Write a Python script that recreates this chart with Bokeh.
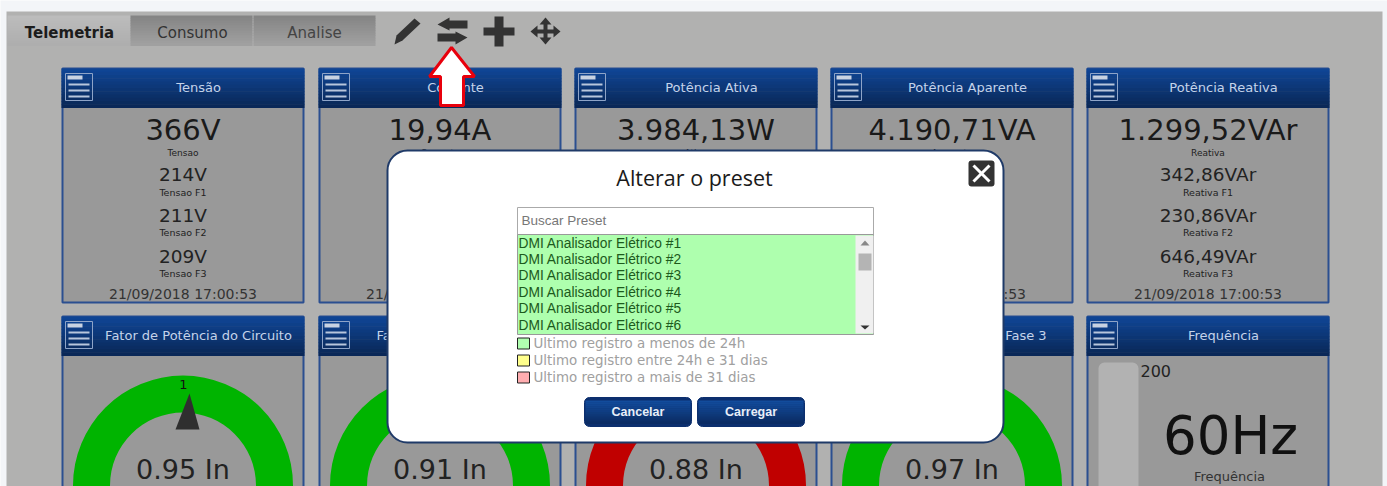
from bokeh.plotting import figure
from bokeh.models import Range1d
from bokeh.core.properties import value
from bokeh.embed import file_html
from bokeh.resources import INLINE

# ---------- values ----------
tabs = ["Telemetria", "Consumo", "Analise"]
row1_titles = ["Tensão", "Corrente", "Potência Ativa", "Potência Aparente", "Potência Reativa"]
row1_main = ["366V", "19,94A", "3.984,13W", "4.190,71VA", "1.299,52VAr"]
row1_main_labels = ["Tensao", "Corrente", "Ativa", "Aparente", "Reativa"]
tensao_phases = ["214V", "211V", "209V"]
tensao_phase_labels = ["Tensao F1", "Tensao F2", "Tensao F3"]
reativa_phases = ["342,86VAr", "230,86VAr", "646,49VAr"]
reativa_phase_labels = ["Reativa F1", "Reativa F2", "Reativa F3"]
timestamp = "21/09/2018 17:00:53"
row2_titles = ["Fator de Potência do Circuito", "Fator de Potência Fase 1",
               "Fator de Potência Fase 2", "Fator de Potência Fase 3", "Frequência"]
gauge_values = ["0.95 In", "0.91 In", "0.88 In", "0.97 In"]
gauge_colors = ["#00b400", "#00b400", "#c00000", "#00b400"]
freq_max = "200"
freq_value = "60Hz"
freq_label = "Frequência"
modal_title = "Alterar o preset"
search_hint = "Buscar Preset"
presets = ["DMI Analisador Elétrico #%d" % i for i in (1, 2, 3, 4, 5, 6)]
legend_texts = ["Ultimo registro a menos de 24h", "Ultimo registro entre 24h e 31 dias",
                "Ultimo registro a mais de 31 dias"]
legend_colors = ["#b0ffb0", "#ffff8c", "#ffadb0"]
buttons = ["Cancelar", "Carregar"]

# ---------- layout (in reference pixels) ----------
card_x = [61, 318, 574, 830, 1086]
CW = 243
DJ = value("DejaVu Sans")
LB = value("Liberation Sans")

p = figure(width=1387, height=486, x_range=Range1d(0, 1387), y_range=Range1d(486, 0),
           toolbar_location=None, output_backend="svg", min_border=0,
           background_fill_color="#f3f5f8", border_fill_color="#f3f5f8", outline_line_color=None)
p.axis.visible = False
p.grid.visible = False


def lerp(c1, c2, t):
    a = [int(c1[i:i + 2], 16) for i in (1, 3, 5)]
    b = [int(c2[i:i + 2], 16) for i in (1, 3, 5)]
    return "#%02x%02x%02x" % tuple(round(u + (v - u) * t) for u, v in zip(a, b))


def gradient(x0, x1, y0, y1, c1, c2, n=12):
    h = (y1 - y0) / n
    p.quad(left=[x0] * n, right=[x1] * n,
           top=[y0 + i * h for i in range(n)], bottom=[y0 + (i + 1) * h + 0.4 for i in range(n)],
           fill_color=[lerp(c1, c2, i / (n - 1)) for i in range(n)], line_color=None)


def box(x0, x1, y0, y1, fill, line=None, lw=1, radius=0):
    p.quad(left=[x0], right=[x1], top=[y0], bottom=[y1], fill_color=fill, line_color=line,
           line_width=lw, border_radius=radius)


def txt(x, y, s, size, color="#111111", align="center", font=DJ, style="normal"):
    p.text(x=[x], y=[y], text=[s], text_font=font, text_font_size="%gpx" % size, text_color=color,
           text_align=align, text_baseline="middle", text_font_style=style)


def poly(xs, ys, fill, line=None, lw=1):
    p.patch(x=xs, y=ys, fill_color=fill, line_color=line, line_width=lw)


# page background
box(6, 1382, 11, 490, "#b1b1b0")

# tabs
gradient(7, 130, 15, 45, "#bcbcbc", "#aeaeae")
gradient(130, 252, 15, 45, "#858585", "#a0a0a0")
gradient(253, 375, 15, 45, "#858585", "#a0a0a0")
for cx, s, c, st in zip([69, 192, 314], tabs, ["#1c1c1c", "#333333", "#444444"], ["bold", "normal", "normal"]):
    txt(cx, 32, s, 15, c, style=st)

# toolbar icons
ic = "#333333"
poly([396, 414, 420, 402, 394], [35, 18, 23, 40, 44], ic)
poly([437, 449, 449, 467, 467, 449, 449], [24, 17, 20, 20, 28, 28, 30], ic)
poly([467, 455, 455, 437, 437, 455, 455], [37, 31, 33, 33, 41, 41, 44], ic)
box(483, 514, 27, 35, ic)
box(494, 503, 16, 46, ic)
box(534, 556, 29, 33, ic)
box(543, 547, 21, 40, ic)
poly([545, 539, 551], [17, 24, 24], ic)
poly([545, 539, 551], [44, 37, 37], ic)
poly([530, 537, 537], [31, 25, 37], ic)
poly([560, 553, 553], [31, 25, 37], ic)


def card(x0, y0, y1, title):
    box(x0 + 1, x0 + CW - 1, y0, y1, "#999999", "#2b4f90", 2)
    gradient(x0, x0 + CW, y0, y0 + 39, "#0f4594", "#0a2858")
    txt(x0 + 137, y0 + 19, title, 13, "#c4d3ea")
    ix0, iy0 = x0 + 4, y0 + 5
    box(ix0, ix0 + 27, iy0, iy0 + 27, None, "#8ea4c8", 1)
    box(ix0 + 2, ix0 + 17, iy0 + 2, iy0 + 6, "#c8d2e2")
    for k in (10, 16, 22):
        box(ix0 + 3, ix0 + 24, iy0 + k, iy0 + k + 2, "#b8c6dc")


# row 1
for i, x0 in enumerate(card_x):
    card(x0, 68, 302, row1_titles[i])
    cx = x0 + 121.5
    txt(cx, 129, row1_main[i], 29, "#1a1a1a")
    txt(cx, 152, row1_main_labels[i], 9, "#222222")
    txt(cx, 293, timestamp, 14, "#333333")

for x0, vals, labs in [(card_x[0], tensao_phases, tensao_phase_labels),
                       (card_x[4], reativa_phases, reativa_phase_labels)]:
    cx = x0 + 121.5
    for v, l, yv, yl in zip(vals, labs, [174, 215, 256], [192, 232, 273]):
        txt(cx, yv, v, 18.5, "#222222")
        txt(cx, yl, l, 9.5, "#222222")

# row 2
for i, x0 in enumerate(card_x):
    card(x0, 316, 500, row2_titles[i])

for i, val in enumerate(gauge_values):
    cx = card_x[i] + 121.5
    p.annulus(x=[cx], y=[485], inner_radius=[73], outer_radius=[110],
              fill_color=gauge_colors[i], line_color=None)
    txt(cx, 469, val, 27, "#222222")

# needle of the first gauge
n = card_x[0]
poly([n + 128, n + 114, n + 138], [393, 429, 429], "#2f2f2f")
txt(n + 122, 384, "1", 13, "#111111")

# frequency
fx = card_x[4]
box(fx + 12, fx + 52, 362, 500, "#b2b2b2", None, 1, 6)
txt(fx + 54, 370, freq_max, 16, "#222222", align="left")
txt(fx + 144, 435, freq_value, 53, "#111111")
txt(fx + 143, 476, freq_label, 13, "#333333")

# red arrow
poly([451, 474, 463, 463, 440, 440, 429], [47, 76, 76, 105, 105, 76, 76], "#ffffff", "#e8000c", 3)

# modal
box(387, 1003, 150, 442, "#ffffff", "#1f3a68", 2, 20)
txt(694, 177, modal_title, 21.5, "#1a1a1a", font=value("Open Sans"))
box(968, 994, 160, 186, "#333333", None, 1, 3)
p.multi_line(xs=[[973, 989], [973, 989]], ys=[[165, 181], [181, 165]], line_color="#ffffff", line_width=3)

box(517, 873, 207, 234, "#ffffff", "#aaaaaa")
txt(521, 220, search_hint, 13.5, "#777777", align="left", font=LB)
box(517, 873, 234, 334, "#aeffae", "#999999")
box(855, 873, 235, 333, "#f0f0f0")
box(858, 871, 253, 270, "#b4b4b4")
poly([864.5, 860, 869], [240, 245, 245], "#888888")
poly([864.5, 860, 869], [329, 325, 325], "#333333")
for s, y in zip(presets, [243, 259, 275, 292, 308, 325]):
    txt(518, y, s, 13.8, "#1c5a1c", align="left", font=LB)

for s, c, y in zip(legend_texts, legend_colors, [343, 360, 377]):
    box(517, 529, y - 5.5, y + 5.5, c, "#222222")
    txt(533, y, s, 13.4, "#a0a0a0", align="left")

for (x0, x1), s in zip([(584, 691), (697, 804)], buttons):
    box(x0, x1, 397, 426, "#0c2f6e", "#0c2f6e", 1, 5)
    gradient(x0 + 1, x1 - 1, 400, 423, "#124c9c", "#0b2c64")
    txt((x0 + x1) / 2, 411, s, 12.5, "#e8eef8", font=LB, style="bold")

open("out.html", "w").write(file_html(p, INLINE))
